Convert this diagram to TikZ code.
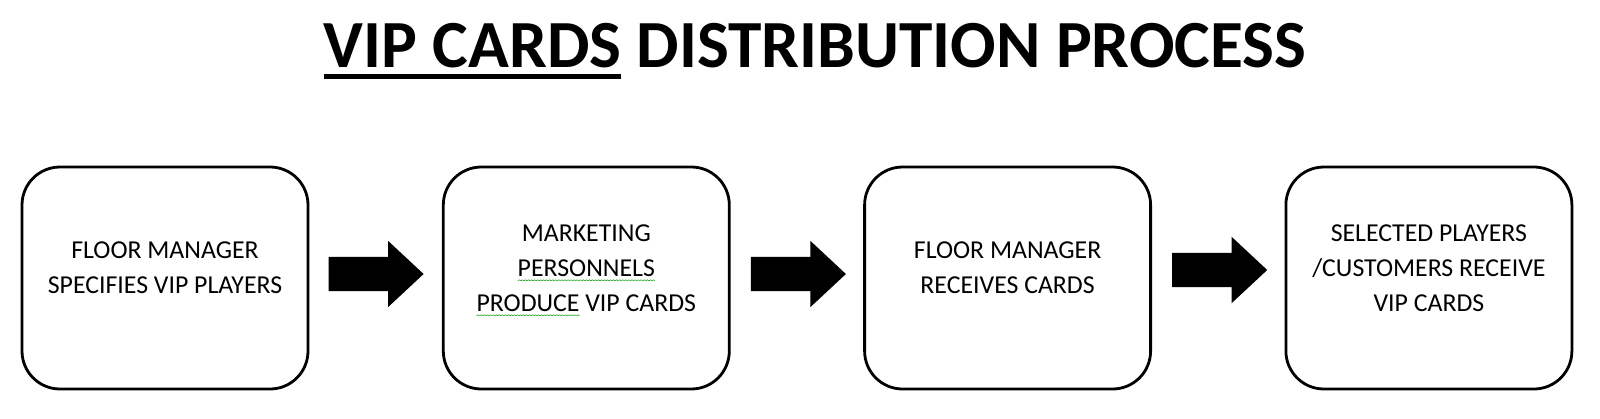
\documentclass[tikz,border=0pt]{standalone}
\usepackage{fontspec}
\setmainfont{Carlito}
\usetikzlibrary{positioning,calc,shapes.arrows}
\newsavebox{\wavebox}
\newsavebox{\wordbox}
\sbox{\wavebox}{\tikz{\useasboundingbox (0,0) rectangle (3pt,1pt);
  \draw[green!60!black, line width=0.5pt] (0,0) -- (1.5pt,1pt) -- (3pt,0);}}
\newcommand{\spellmark}[1]{\sbox{\wordbox}{#1}%
  \rlap{\raisebox{-4.5pt}[0pt][0pt]{\hbox to \wd\wordbox{\xleaders\copy\wavebox\hfill}}}\usebox{\wordbox}}
\newcommand{\titleline}[1]{\sbox{\wordbox}{#1}\rlap{\rule[-12pt]{\wd\wordbox}{5pt}}\usebox{\wordbox}}
\tikzset{
  stepbox/.style ={rectangle, rounded corners=38pt, draw=black, line width=2.8pt,
                   minimum width=286pt, minimum height=222pt, inner sep=0pt},
  steptxt/.style ={align=center, inner sep=0pt, font=\fontsize{25.8}{35}\selectfont},
  blockarr/.style={single arrow, fill=black, draw=none, inner sep=17pt, anchor=tail,
                   minimum width=66pt, minimum height=95pt,
                   single arrow head extend=16pt, single arrow tip angle=86},
  heading/.style ={anchor=base, inner sep=0pt, font=\fontsize{67.4}{72}\selectfont\bfseries},
}

\begin{document}
\begin{tikzpicture}[x=1pt, y=1pt, node distance=132.5pt]
  \useasboundingbox (0,0) rectangle (1600,-418);
  \node[heading] (title) at (815,-67) {\titleline{VIP CARDS} DISTRIBUTION PROCESS};

  \node[stepbox] (spec) at (165,-278) {};
  \node[stepbox, right=of spec] (prod) {};
  \node[stepbox, right=of prod] (recv) {};
  \node[stepbox, right=of recv] (cust) {};

  \node[steptxt] (spectxt) at ([yshift=10pt]spec.center) {FLOOR MANAGER\\SPECIFIES VIP PLAYERS};
  \node[steptxt] (prodtxt) at ([yshift=10pt]prod.center)
    {MARKETING\\\spellmark{PERSONNELS}\\\spellmark{PRODUCE} VIP CARDS};
  \node[steptxt] (recvtxt) at ([yshift=10pt]recv.center) {FLOOR MANAGER\\RECEIVES CARDS};
  \node[steptxt] (custtxt) at ([yshift=10pt]cust.center)
    {SELECTED PLAYERS\\/CUSTOMERS RECEIVE\\VIP CARDS};

  % block arrows, tail a fixed gap after each box
  \node[blockarr] (ar1) at ($(spec.east)+(19,4)$) {};
  \node[blockarr] (ar2) at ($(prod.east)+(20,4)$) {};
  \node[blockarr] (ar3) at ($(recv.east)+(20,8)$) {};
\end{tikzpicture}
\end{document}
